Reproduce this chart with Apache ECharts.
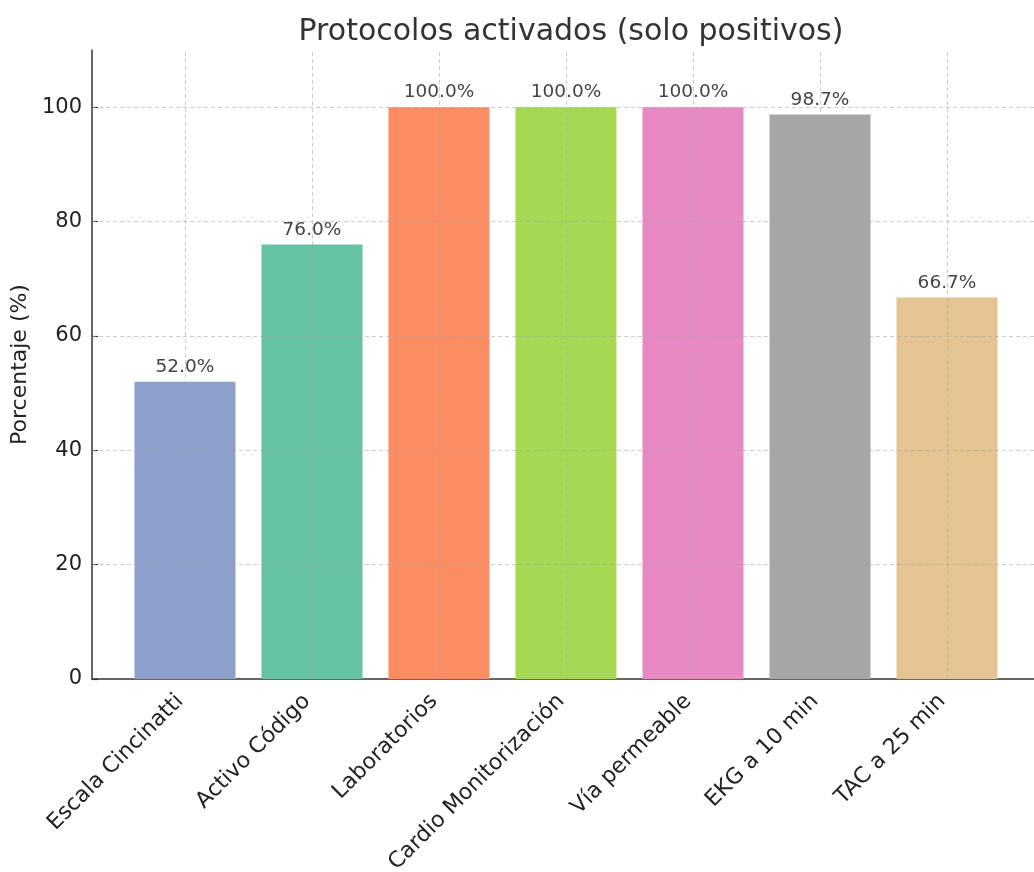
<!DOCTYPE html>
<html>
<head>
<meta charset="utf-8">
<script src="https://cdn.jsdelivr.net/npm/echarts@6/dist/echarts.min.js"></script>
<style>
html,body{margin:0;padding:0;background:#fff;}
#chart{width:1034px;height:872px;}
</style>
</head>
<body>
<div id="chart"></div>
<script>
const categories = ["Escala Cincinatti", "Activo Código", "Laboratorios", "Cardio Monitorización", "Vía permeable", "EKG a 10 min", "TAC a 25 min"];
const values = [52.0, 76.0, 100.0, 100.0, 100.0, 98.7, 66.7];
const colors = ["#8da0cb", "#66c2a5", "#fc8d62", "#a6d854", "#e78ac3", "#a6a6a6", "#e5c494"];
const yTicks = [0, 20, 40, 60, 80, 100];
const positions = categories.map((c, i) => i);

const FONT = "DejaVu Sans";
const chart = echarts.init(document.getElementById('chart'));
const gridStyle = { color: 'rgba(160,160,160,0.55)', width: 1, type: [4, 3] };

chart.setOption({
  animation: false,
  backgroundColor: '#ffffff',
  title: {
    text: 'Protocolos activados (solo positivos)',
    left: 566, top: 12, textAlign: 'center',
    textStyle: { fontFamily: FONT, fontSize: 30, fontWeight: 'normal', color: '#333333' }
  },
  grid: { left: 92, right: 0, top: 50, bottom: 193, containLabel: false, outerBoundsMode: 'none' },
  xAxis: {
    type: 'value', min: -0.732, max: 6.685,
    axisLine: { show: true, onZero: false, lineStyle: { color: '#333333', width: 1.5 } },
    axisTick: { show: true, inside: true, length: 6, customValues: positions, lineStyle: { color: '#333333', width: 1.2 } },
    axisLabel: {
      customValues: positions, rotate: 45, margin: 14, padding: [0, 7, 0, 0],
      fontFamily: FONT, fontSize: 22, color: '#222222',
      formatter: v => categories[Math.round(v)] ?? ''
    },
    splitLine: { show: false }
  },
  yAxis: {
    type: 'value', min: 0, max: 110,
    name: 'Porcentaje (%)', nameLocation: 'middle', nameGap: 56,
    nameTextStyle: { fontFamily: FONT, fontSize: 22, color: '#222222' },
    axisLine: { show: true, onZero: false, lineStyle: { color: '#333333', width: 1.5 } },
    axisTick: { show: true, inside: true, length: 6, customValues: yTicks, lineStyle: { color: '#333333', width: 1.2 } },
    axisLabel: { customValues: yTicks, margin: 10, fontFamily: FONT, fontSize: 21, color: '#222222' },
    splitLine: { show: false }
  },
  series: [{
    type: 'bar',
    barWidth: 101,
    data: values.map((v, i) => ({ value: [positions[i], v], itemStyle: { color: colors[i] } })),
    label: {
      show: true, position: 'top', distance: 5,
      fontFamily: FONT, fontSize: 18.5, color: '#444444',
      formatter: p => p.value[1].toFixed(1) + '%'
    },
    markLine: {
      silent: true, symbol: 'none', animation: false,
      label: { show: false },
      lineStyle: gridStyle,
      data: positions.map(p => ({ xAxis: p })).concat(yTicks.filter(t => t > 0).map(t => ({ yAxis: t })))
    }
  }]
});
</script>
</body>
</html>
